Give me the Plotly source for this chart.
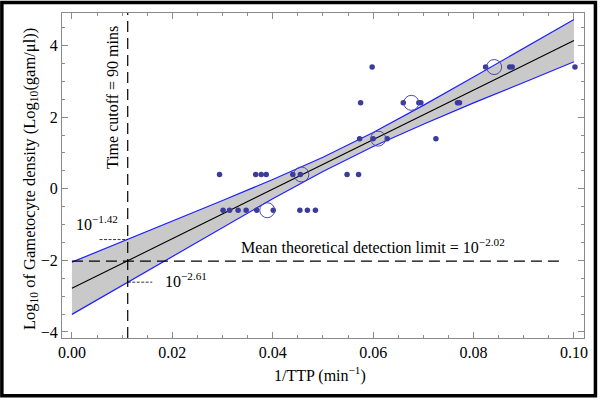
import plotly.graph_objects as go

# ---- data ----
row_y = [3.4, 2.4, 1.4, 0.4, -0.6]
row_x = [
    [0.0598, 0.0824, 0.0872, 0.0877, 0.1002],
    [0.0575, 0.0660, 0.0691, 0.0695, 0.0768, 0.0772],
    [0.0573, 0.0600, 0.0628, 0.0725],
    [0.0294, 0.0366, 0.0377, 0.0387, 0.0440, 0.0455, 0.0548, 0.0571],
    [0.0301, 0.0314, 0.0331, 0.0347, 0.0368, 0.0401, 0.0454, 0.0469, 0.0485],
]
mean_x = [0.0841, 0.0676, 0.0610, 0.0457, 0.0389]
mean_y = [3.4, 2.4, 1.4, 0.4, -0.6]

fit_x = [0.0, 0.1]
fit_y = [-2.78, 4.14]

band_x = [0.0, 0.01111, 0.02, 0.03, 0.04, 0.05, 0.06, 0.07, 0.08, 0.09, 0.10]
band_upper = [-2.05, -1.42, -0.91, -0.33, 0.26, 0.88, 1.57, 2.33, 3.12, 3.92, 4.73]
band_lower = [-3.51, -2.61, -1.88, -1.08, -0.28, 0.48, 1.18, 1.80, 2.40, 2.97, 3.55]

cutoff_x = 1 / 90
detect_y = -2.02
upper_at_cut = -1.42
lower_at_cut = -2.61

x_range = [-0.00198, 0.102]
y_range = [-4.17, 4.91]

dots_x = [x for xs in row_x for x in xs]
dots_y = [y for xs, y in zip(row_x, row_y) for _ in xs]

FONT = "Liberation Serif"
BLUE = "#1f1fff"
DOT = "#3b3b9c"

fig = go.Figure()
# band fill
fig.add_trace(go.Scatter(x=band_x + band_x[::-1], y=band_upper + band_lower[::-1],
                         fill="toself", fillcolor="#c9c9c9", line=dict(width=0),
                         mode="lines", hoverinfo="skip", showlegend=False))
fig.add_trace(go.Scatter(x=band_x, y=band_upper, mode="lines",
                         line=dict(color=BLUE, width=1.2), showlegend=False))
fig.add_trace(go.Scatter(x=band_x, y=band_lower, mode="lines",
                         line=dict(color=BLUE, width=1.2), showlegend=False))
fig.add_trace(go.Scatter(x=fit_x, y=fit_y, mode="lines",
                         line=dict(color="black", width=1.1), showlegend=False))
# dashed reference lines
fig.add_trace(go.Scatter(x=[cutoff_x, cutoff_x], y=[y_range[0], y_range[1]], mode="lines",
                         line=dict(color="black", width=1.2, dash="11px,6px"), showlegend=False))
fig.add_trace(go.Scatter(x=[0.0, 0.0979], y=[detect_y, detect_y], mode="lines",
                         line=dict(color="black", width=1.2, dash="11px,6px"), showlegend=False))
fig.add_trace(go.Scatter(x=[0.0055, cutoff_x], y=[upper_at_cut, upper_at_cut], mode="lines",
                         line=dict(color="black", width=0.8, dash="3px,1.5px"), showlegend=False))
fig.add_trace(go.Scatter(x=[cutoff_x, 0.016], y=[lower_at_cut, lower_at_cut], mode="lines",
                         line=dict(color="black", width=0.8, dash="3px,1.5px"), showlegend=False))
# points
fig.add_trace(go.Scatter(x=dots_x, y=dots_y, mode="markers",
                         marker=dict(color=DOT, size=5.5, line=dict(width=0)), showlegend=False))
fig.add_trace(go.Scatter(x=mean_x, y=mean_y, mode="markers",
                         marker=dict(color="rgba(0,0,0,0)", size=15,
                                     line=dict(color="#4a4aa8", width=1)), showlegend=False))

ann_font = dict(family=FONT, size=16, color="black")
fig.add_annotation(x=0.0049, y=-0.95, xref="x", yref="y", text="10<sup>−1.42</sup>",
                   showarrow=False, font=ann_font)
fig.add_annotation(x=0.0228, y=-2.56, xref="x", yref="y", text="10<sup>−2.61</sup>",
                   showarrow=False, font=ann_font)
fig.add_annotation(x=0.060, y=-1.61, xref="x", yref="y",
                   text="Mean theoretical detection limit = 10<sup>−2.02</sup>",
                   showarrow=False, font=ann_font)
fig.add_annotation(x=0.0081, y=2.55, xref="x", yref="y", text="Time cutoff = 90 mins",
                   textangle=-90, showarrow=False, font=ann_font)
# axis titles
fig.add_annotation(x=0.495, y=-0.150, xref="paper", yref="paper",
                   text="1/TTP (min<sup>−1</sup>)", showarrow=False, font=ann_font)
fig.add_annotation(x=-0.0857, y=0.49, xref="paper", yref="paper", textangle=-90,
                   text="Log<sub>10</sub> of Gametocyte density (Log<sub>10</sub>(gam/μl))",
                   showarrow=False, font=dict(family=FONT, size=16.5, color="black"))

# outer black frame
fig.add_shape(type="rect", xref="paper", yref="paper",
              x0=-0.1152, x1=1.0219, y0=-0.178, y1=1.0322,
              line=dict(color="black", width=3.5), fillcolor="rgba(0,0,0,0)")

axis_common = dict(showline=True, mirror="allticks", linecolor="#8a8a8a", linewidth=1,
                   ticks="inside", ticklen=6, tickcolor="#8a8a8a", tickwidth=1,
                   showgrid=False, zeroline=False,
                   tickfont=dict(family=FONT, size=16, color="black"))
fig.update_xaxes(range=x_range, tickvals=[0, 0.02, 0.04, 0.06, 0.08, 0.10],
                 ticktext=["0.00", "0.02", "0.04", "0.06", "0.08", "0.10"],
                 minor=dict(dtick=0.005, tick0=0, ticks="inside", ticklen=3, tickcolor="#8a8a8a"),
                 **axis_common)
fig.update_yaxes(range=y_range, tickvals=[-4, -2, 0, 2, 4],
                 ticktext=["−4", "−2", "0", "2", "4"],
                 minor=dict(dtick=0.5, tick0=0, ticks="inside", ticklen=3, tickcolor="#8a8a8a"),
                 **axis_common)
fig.update_layout(width=600, height=402, margin=dict(l=62, r=13, t=12, b=64),
                  plot_bgcolor="white", paper_bgcolor="white",
                  font=dict(family=FONT, size=16, color="black"))

fig.write_html("out.html", config={"displayModeBar": False},
               post_script="document.body.style.margin='0';document.body.style.padding='0';")
